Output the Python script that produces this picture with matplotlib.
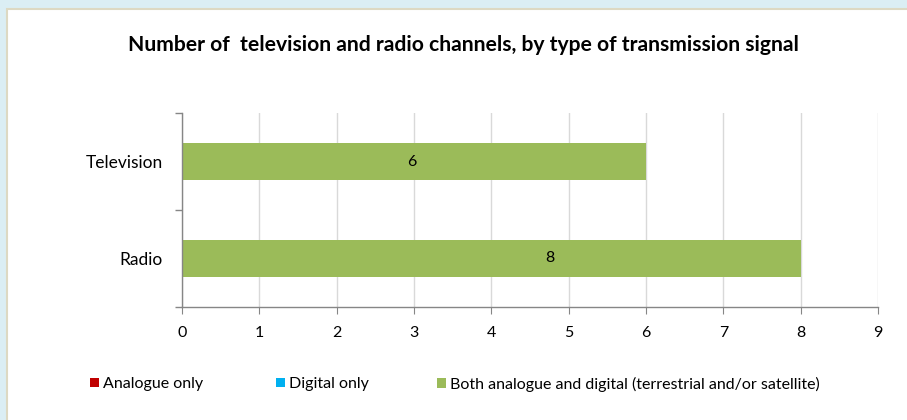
import matplotlib.pyplot as plt
from matplotlib.patches import Rectangle
import numpy as np

categories = ['Radio', 'Television']
analogue_only = [0, 0]
digital_only = [0, 0]
both = [8, 6]
series_names = ['Analogue only', 'Digital only',
                'Both analogue and digital (terrestrial and/or satellite)']
colors = ['#C00000', '#00B0F0', '#9BBB59']

plt.rcParams['font.family'] = ['Lato', 'DejaVu Sans']

fig = plt.figure(figsize=(9.07, 4.2), dpi=100)
fig.patch.set_facecolor('#DBEEF4')
# white panel with beige edge
fig.patches.append(Rectangle((7 / 907, -0.01), 1.0, 1 - 9 / 420 + 0.01,
                             transform=fig.transFigure, facecolor='white',
                             edgecolor='#DDD9C3', linewidth=1.5, zorder=-1))

ax = fig.add_axes([182 / 907, 1 - 307 / 420, 696 / 907, 194 / 420])
ax.set_zorder(2)
ax.set_facecolor('none')

# data labels were placed by hand in the original (fraction of the bar length)
label_frac = [0.594, 0.495]

y = np.arange(len(categories))
h = 0.39
left = np.zeros(len(categories))
handles = []
for vals, name, c in zip([analogue_only, digital_only, both], series_names, colors):
    bars = ax.barh(y, vals, height=h, left=left, color=c, label=name, zorder=2)
    handles.append(bars)
    if name.startswith('Both'):
        for b, v, f in zip(bars, vals, label_frac):
            ax.text(b.get_x() + b.get_width() * f, b.get_y() + b.get_height() / 2,
                    str(v), ha='center', va='center', fontsize=11.5, color='#000000')
    left = left + np.array(vals)

ax.set_xlim(0, 9)
ax.set_ylim(-0.5, 1.5)
ax.set_xticks(range(10))
ax.set_yticks(y)
ax.set_yticklabels(categories)
ax.set_yticks([-0.5, 0.5, 1.5], minor=True)
ax.tick_params(axis='y', which='major', length=0, pad=14, labelsize=12.5)
ax.tick_params(axis='y', which='minor', length=5, color='#868686', width=1)
ax.tick_params(axis='x', length=5, color='#868686', labelsize=11.5, pad=9)
ax.grid(axis='x', color='#D9D9D9', linewidth=1, zorder=0)
for s in ['top', 'right']:
    ax.spines[s].set_visible(False)
for s in ['left', 'bottom']:
    ax.spines[s].set_color('#868686')
    ax.spines[s].set_linewidth(1)

fig.text(463 / 907, 1 - 45 / 420,
         'Number of  television and radio channels, by type of transmission signal',
         ha='center', va='center', fontsize=15.2, fontweight='bold')

legend_x = [90, 276, 437]
for hnd, name, lx in zip(handles, series_names, legend_x):
    lg = fig.legend([hnd], [name], loc='center left',
                    bbox_to_anchor=(lx / 907, 1 - 384 / 420),
                    frameon=False, fontsize=11.5, handlelength=0.55, handleheight=0.55,
                    handletextpad=0.25, borderpad=0, borderaxespad=0)

fig.savefig('out.png', dpi=100, facecolor=fig.get_facecolor())
